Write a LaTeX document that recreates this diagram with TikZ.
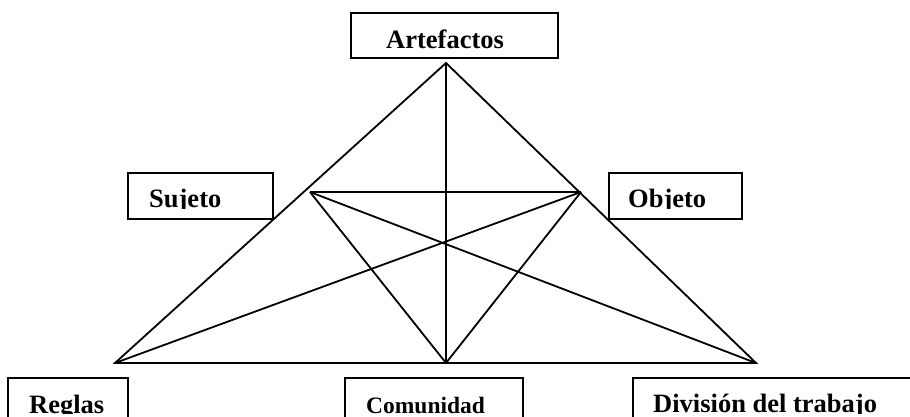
\documentclass[tikz,border=0pt]{standalone}
\usepackage{fontspec}
\setmainfont{Liberation Serif}
\begin{document}
\begin{tikzpicture}[x=1pt,y=-1pt,
  box/.style={draw,rectangle,line width=2pt,inner sep=0pt},
  label/.style={font=\bfseries\fontsize{26.5}{30}\selectfont,inner sep=0pt,anchor=base west},
  edge/.style={line width=1.8pt,line join=miter}]
\useasboundingbox (0,0) rectangle (910,417);
\clip (0,0) rectangle (910,417);

% frames
\node[box,minimum width=207pt,minimum height=45pt] (artbox) at (454.5,35.5) {};
\node[box,minimum width=145pt,minimum height=46pt] (sujbox) at (200.5,196) {};
\node[box,minimum width=133pt,minimum height=46pt] (objbox) at (675.5,196) {};
\node[box,minimum width=120pt,minimum height=60pt] (regbox) at (68,408) {};
\node[box,minimum width=178pt,minimum height=60pt] (combox) at (434,408) {};
\node[box,minimum width=300pt,minimum height=60pt] (divbox) at (783,408) {};

% labels (descenders cut at the base line)
\node[label] (arttxt) at (386,49) {Artefactos};
\node[label,font=\bfseries\fontsize{23.5}{28}\selectfont] (comtxt) at (366,413) {Comunidad};
\begin{scope}
  \clip (0,0) rectangle (910,208);
  \node[label] (sujtxt) at (149,207) {Sujeto};
  \node[label] (objtxt) at (628,207) {Objeto};
\end{scope}
\begin{scope}
  \clip (0,0) rectangle (910,413.5);
  \node[label] (regtxt) at (29,413) {Reglas};
  \node[label] (divtxt) at (653,412) {División del trabajo};
\end{scope}

% triangle vertices
\coordinate (top) at (446,63);
\coordinate (bl) at (115,363);
\coordinate (br) at (756,363);
\coordinate (bm) at (446,363);
\coordinate (il) at (310,192);
\coordinate (ir) at (581,192);

% outer triangle and median
\draw[edge] (top) -- (bl) -- (br) -- cycle;
\draw[edge] (top) -- (bm);
% inner triangle
\draw[edge] (il) -- (ir);
\draw[edge] (il) -- (bm);
\draw[edge] (ir) -- (bm);
% crossing lines
\draw[edge] (il) -- (br);
\draw[edge] (ir) -- (bl);
\end{tikzpicture}
\end{document}
